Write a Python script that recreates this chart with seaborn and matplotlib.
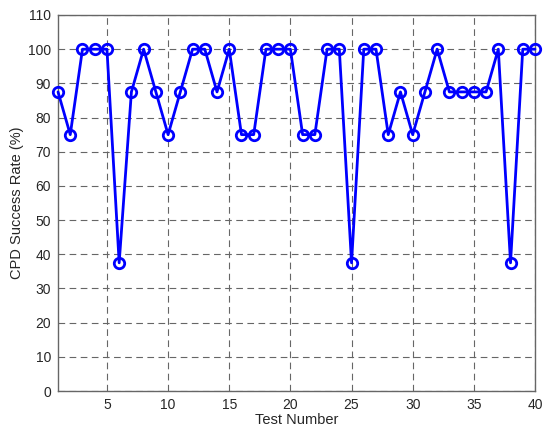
import numpy as np
import pandas as pd
import matplotlib
matplotlib.use("Agg")
import matplotlib.pyplot as plt
import seaborn as sns

# Test data
test_number = list(range(1, 41))
success_rate = [87.5, 75, 100, 100, 100, 37.5, 87.5, 100, 87.5, 75,
                87.5, 100, 100, 87.5, 100, 75, 75, 100, 100, 100,
                75, 75, 100, 100, 37.5, 100, 100, 75, 87.5, 75,
                87.5, 100, 87.5, 87.5, 87.5, 87.5, 100, 37.5, 100, 100]
x_ticks = [5, 10, 15, 20, 25, 30, 35, 40]
y_ticks = list(range(0, 111, 10))

df = pd.DataFrame({"test": test_number, "rate": success_rate})

sns.set_style("white")
plt.rcParams['font.family'] = ['Liberation Sans', 'DejaVu Sans']

fig = plt.figure(figsize=(5.5, 4.36), dpi=100)
ax = fig.add_axes([0.1055, 0.1032, 0.8672, 0.8624])

sns.lineplot(data=df, x="test", y="rate", ax=ax, color="#0000ff", linewidth=2,
             marker="o", markersize=7.5, markerfacecolor="none",
             markeredgecolor="#0000ff", markeredgewidth=2, zorder=3,
             clip_on=False)

ax.set_xlim(1, 40)
ax.set_ylim(0, 110)
ax.set_xticks(x_ticks)
ax.set_yticks(y_ticks)
ax.grid(True, color="#666666", linestyle=(0, (6, 4)), linewidth=0.8)
ax.tick_params(direction="in", labelsize=10, length=4, color="#555555", pad=5)
for s in ax.spines.values():
    s.set_color("#666666")
    s.set_linewidth(1)

ax.set_xlabel("Test Number", fontsize=10.5, labelpad=1)
ax.set_ylabel("CPD Success Rate (%)", fontsize=10.5, labelpad=3)

fig.savefig("out.png", dpi=100)
